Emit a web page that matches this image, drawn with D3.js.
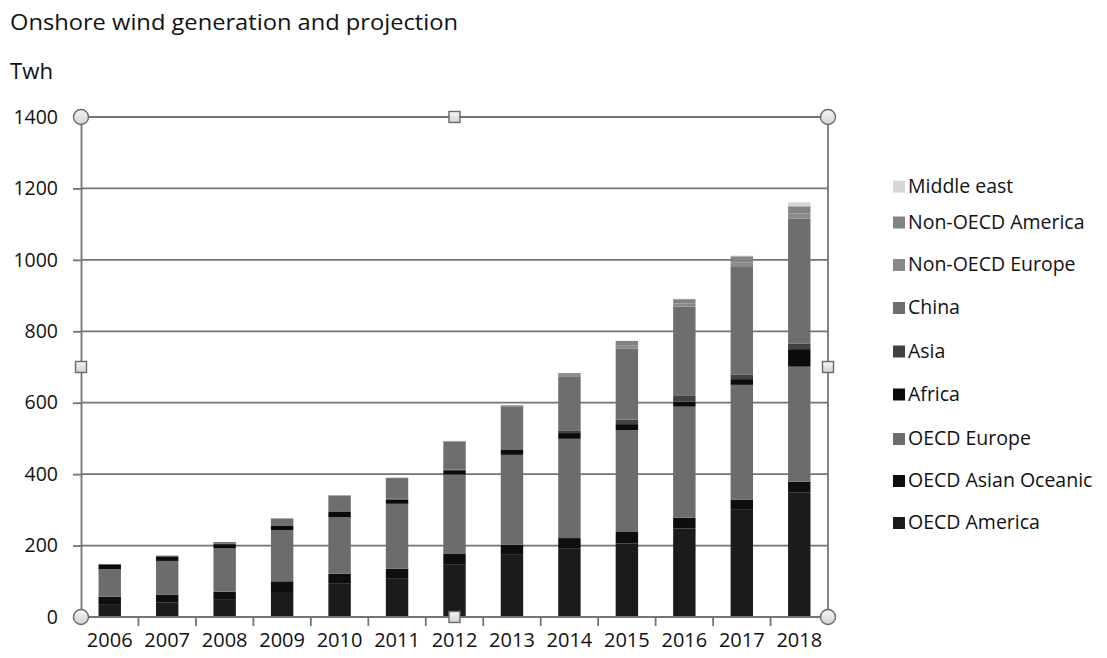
<!DOCTYPE html>
<html>
<head>
<meta charset="utf-8">
<script src="https://cdn.jsdelivr.net/npm/d3@7"></script>
<style>
  html, body { margin: 0; padding: 0; background: #fff; }
  svg { display: block; font-family: "Open Sans", "DejaVu Sans", sans-serif; font-weight: 500; }
</style>
</head>
<body>
<svg id="chart" width="1107" height="658"></svg>
<script>
// Onshore wind generation by region, TWh (2006-2018, later years projected)
const years = ["2006","2007","2008","2009","2010","2011","2012","2013","2014","2015","2016","2017","2018"];

const oecdAmerica       = [34, 40, 48, 70, 93, 107, 148, 174, 191, 206, 248, 300, 348];
const oecdAsianOceanic  = [23, 23, 23, 30, 28, 28, 30, 28, 30, 32, 30, 28, 31];
const oecdEurope        = [77, 94, 121, 143, 158, 182, 221, 252, 278, 285, 311, 322, 322];
const africa            = [12, 12, 12, 12, 15, 12, 12, 14, 16, 17, 14, 16, 49];
const asia              = [2, 2, 2, 2, 2, 2, 2, 2, 6, 13, 16, 12, 16];
const china             = [0, 1, 4, 19, 44, 58, 77, 120, 153, 199, 250, 302, 350];
const nonOecdEurope     = [0, 0, 0, 0, 0, 0, 1, 1, 4, 9, 9, 12, 14];
const nonOecdAmerica    = [0, 0, 0, 0, 1, 1, 2, 2, 5, 12, 12, 18, 20];
const middleEast        = [0, 0, 0, 0, 0, 0, 0, 0, 0, 0, 1, 2, 11];

// series in stacking order (bottom to top)
const seriesNames = ["OECD America", "OECD Asian Oceanic", "OECD Europe", "Africa", "Asia",
                     "China", "Non-OECD Europe", "Non-OECD America", "Middle east"];
const seriesValues = [oecdAmerica, oecdAsianOceanic, oecdEurope, africa, asia,
                      china, nonOecdEurope, nonOecdAmerica, middleEast];
const seriesColors = ["#1b1b1b", "#0e0e0e", "#6c6c6c", "#0b0b0b", "#424242",
                      "#6e6e6e", "#8a8a8a", "#838383", "#d6d6d6"];

const yTicks = [0, 200, 400, 600, 800, 1000, 1200, 1400];

const svg = d3.select("#chart");
const plot = { left: 81, right: 828, top: 117, bottom: 617 };
const lineColor = "#747474";

const rows = years.map((yr, i) => {
  const r = { year: yr };
  seriesNames.forEach((s, k) => r[s] = seriesValues[k][i]);
  return r;
});
const stacked = d3.stack().keys(seriesNames)(rows);

const x = d3.scaleBand().domain(years).range([plot.left, plot.right])
  .paddingInner(0.61).paddingOuter(0.305);
const y = d3.scaleLinear().domain([0, 1400]).range([plot.bottom, plot.top]);

// title and unit
svg.append("text").attr("x", 10).attr("y", 30).attr("font-size", 21).attr("fill", "#111")
  .attr("textLength", 448).attr("lengthAdjust", "spacingAndGlyphs")
  .text("Onshore wind generation and projection");
svg.append("text").attr("x", 10).attr("y", 79).attr("font-size", 21).attr("fill", "#111")
  .attr("textLength", 43).attr("lengthAdjust", "spacingAndGlyphs")
  .text("Twh");

// horizontal gridlines
svg.append("g").selectAll("line").data(yTicks.filter(d => d > 0)).join("line")
  .attr("x1", plot.left).attr("x2", plot.right)
  .attr("y1", d => y(d)).attr("y2", d => y(d))
  .attr("stroke", lineColor).attr("stroke-width", 1.8);

// right border of plot area
svg.append("line").attr("x1", plot.right).attr("x2", plot.right)
  .attr("y1", plot.top).attr("y2", plot.bottom)
  .attr("stroke", lineColor).attr("stroke-width", 1.8);

// stacked bars
svg.append("g").selectAll("g").data(stacked).join("g")
  .attr("fill", (d, i) => seriesColors[i])
  .selectAll("rect").data(d => d).join("rect")
  .attr("x", d => x(d.data.year))
  .attr("width", x.bandwidth())
  .attr("y", d => y(d[1]))
  .attr("height", d => Math.max(0, y(d[0]) - y(d[1])));

// y axis
const yAxis = d3.axisLeft(y).tickValues(yTicks).tickSize(8).tickPadding(15).tickFormat(d3.format("d"));
const gy = svg.append("g").attr("transform", `translate(${plot.left},0)`).call(yAxis);
gy.select(".domain").attr("stroke", lineColor).attr("stroke-width", 1.8);
gy.selectAll(".tick line").attr("stroke", lineColor).attr("stroke-width", 1.8);
gy.selectAll(".tick text").attr("font-size", 19.5).attr("fill", "#111")
  .attr("font-family", "'Open Sans', sans-serif").attr("font-weight", 500);

// x axis: ticks sit on category boundaries
const gx = svg.append("g").attr("transform", `translate(0,${plot.bottom})`);
gx.append("line").attr("x1", plot.left).attr("x2", plot.right)
  .attr("stroke", lineColor).attr("stroke-width", 1.8);
const step = x.step();
gx.selectAll("line.tk").data(years.slice(1)).join("line").attr("class", "tk")
  .attr("x1", d => x(d) - (step - x.bandwidth()) / 2)
  .attr("x2", d => x(d) - (step - x.bandwidth()) / 2)
  .attr("y1", 0).attr("y2", 9)
  .attr("stroke", lineColor).attr("stroke-width", 1.8);
gx.selectAll("text").data(years).join("text")
  .attr("x", d => x(d) + x.bandwidth() / 2)
  .attr("y", 30).attr("text-anchor", "middle")
  .attr("font-size", 20).attr("fill", "#111").text(d => d);

// selection handles of the plot area
const defs = svg.append("defs");
const grad = defs.append("linearGradient").attr("id", "handleFill")
  .attr("x1", 0).attr("y1", 0).attr("x2", 0).attr("y2", 1);
grad.append("stop").attr("offset", "0%").attr("stop-color", "#f6f6f6");
grad.append("stop").attr("offset", "100%").attr("stop-color", "#d2d2d2");

const midX = (plot.left + plot.right) / 2, midY = (plot.top + plot.bottom) / 2;
const corners = [[plot.left, plot.top], [plot.right, plot.top], [plot.left, plot.bottom], [plot.right, plot.bottom]];
const edges = [[midX, plot.top], [midX, plot.bottom], [plot.left, midY], [plot.right, midY]];
svg.append("g").selectAll("circle").data(corners).join("circle")
  .attr("cx", d => d[0]).attr("cy", d => d[1]).attr("r", 7.5)
  .attr("fill", "url(#handleFill)").attr("stroke", "#6a6a6a").attr("stroke-width", 1.4);
svg.append("g").selectAll("rect").data(edges).join("rect")
  .attr("x", d => d[0] - 5.5).attr("y", d => d[1] - 5.5).attr("width", 11).attr("height", 11)
  .attr("fill", "url(#handleFill)").attr("stroke", "#6a6a6a").attr("stroke-width", 1.4);

// legend, top entry is the top of the stack
const legendRows = [186.5, 222.5, 265, 308, 351.5, 394.5, 439, 481, 523];
const legendOrder = seriesNames.map((n, i) => ({ name: n, color: seriesColors[i] })).reverse();
const lg = svg.append("g").selectAll("g").data(legendOrder).join("g")
  .attr("transform", (d, i) => `translate(893,${legendRows[i] - 6})`);
lg.append("rect").attr("width", 12).attr("height", 12).attr("fill", d => d.color);
lg.append("text").attr("x", 15).attr("y", 12).attr("font-size", 19.5).attr("fill", "#111")
  .text(d => d.name);
</script>
</body>
</html>
